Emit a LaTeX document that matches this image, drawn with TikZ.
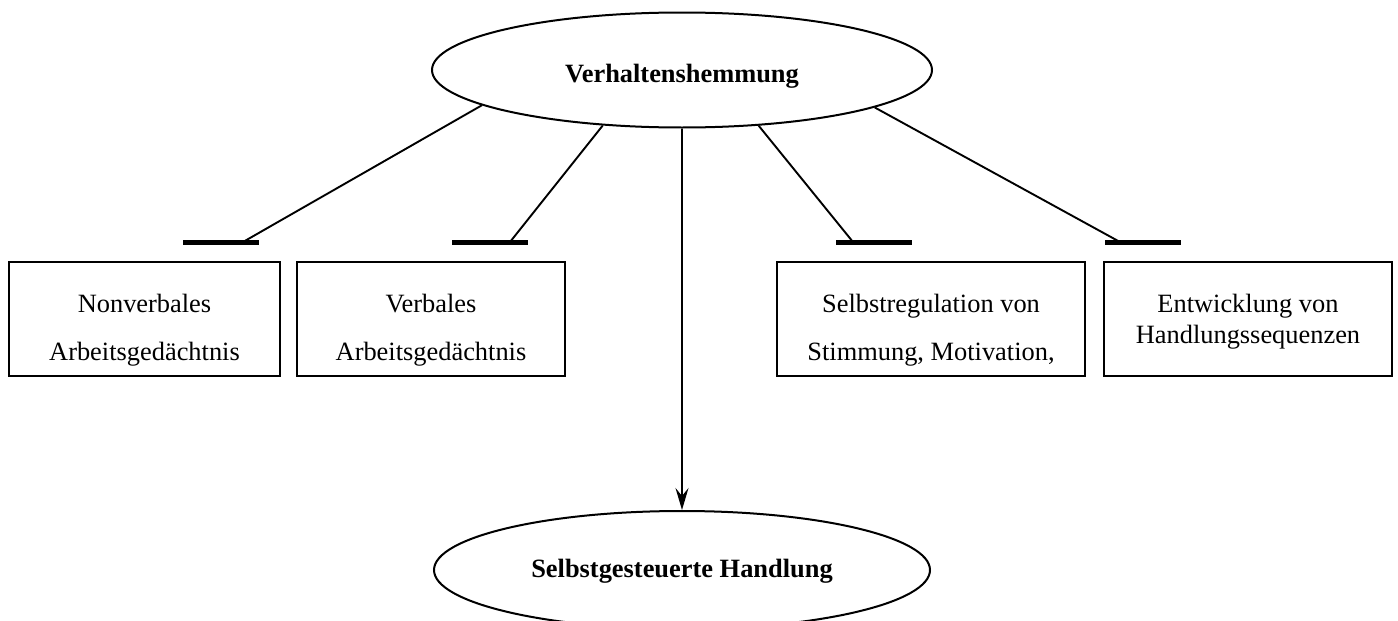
\documentclass[tikz,border=0pt]{standalone}
\usepackage{fontspec}
\setmainfont{Liberation Serif}
\usetikzlibrary{shapes.geometric,arrows.meta}
\begin{document}
\begin{tikzpicture}[x=1pt,y=-1pt,
  ell/.style={draw, line width=2pt, ellipse, inner sep=0pt},
  boxnode/.style={draw, line width=1.8pt, rectangle, inner sep=0pt, minimum height=114pt},
  barnode/.style={fill=black, draw=none, rectangle, inner sep=0pt, minimum width=76pt, minimum height=5pt},
  txt/.style={font=\fontsize{26.4}{32}\selectfont, inner sep=0pt, anchor=base},
  btxt/.style={font=\fontsize{26.4}{32}\selectfont\bfseries, inner sep=0pt, anchor=base},
  conn/.style={line width=1.9pt},
  arr/.style={line width=1.9pt, -{Stealth[length=22pt,width=13pt,inset=8pt]}}
]
\useasboundingbox (0,0) rectangle (1398,621);

% ellipses
\node[ell, minimum width=500pt, minimum height=115pt] (vh) at (682,70) {};
\node[btxt] (vht) at (682,82) {Verhaltenshemmung};
\node[ell, minimum width=496pt, minimum height=118pt] (sh) at (682,570) {};
\node[btxt] (sht) at (682,577) {Selbstgesteuerte Handlung};

% boxes
\node[boxnode, minimum width=271pt] (box1) at (144.5,319) {};
\node[boxnode, minimum width=268pt] (box2) at (431,319) {};
\node[boxnode, minimum width=308pt] (box3) at (931,319) {};
\node[boxnode, minimum width=288pt] (box4) at (1248,319) {};

\node[txt] (t1a) at (144.5,312.7) {Nonverbales};
\node[txt] (t1b) at (144.5,360) {Arbeitsgedächtnis};
\node[txt] (t2a) at (431,312.7) {Verbales};
\node[txt] (t2b) at (431,360) {Arbeitsgedächtnis};
\node[txt] (t3a) at (931,312.7) {Selbstregulation von};
\node[txt] (t3b) at (931,360) {Stimmung, Motivation,};
\node[txt] (t4a) at (1248,312.7) {Entwicklung von};
\node[txt] (t4b) at (1248,343) {Handlungssequenzen};

% bars
\node[barnode] (bar1) at (221,242.5) {};
\node[barnode] (bar2) at (490,242.5) {};
\node[barnode] (bar3) at (874,242.5) {};
\node[barnode] (bar4) at (1143,242.5) {};

\coordinate (e1) at (243,242);
\coordinate (e2) at (510,242);
\coordinate (e3) at (853,242);
\coordinate (e4) at (1120,242);

% connectors
\draw[conn] (vh.190.9) -- (e1);
\draw[conn] (vh.215.9) -- (e2);
\draw[conn] (vh.324.8) -- (e3);
\draw[conn] (vh.349.1) -- (e4);
\draw[arr] (vh.south) -- (sh.north);
\end{tikzpicture}
\end{document}
